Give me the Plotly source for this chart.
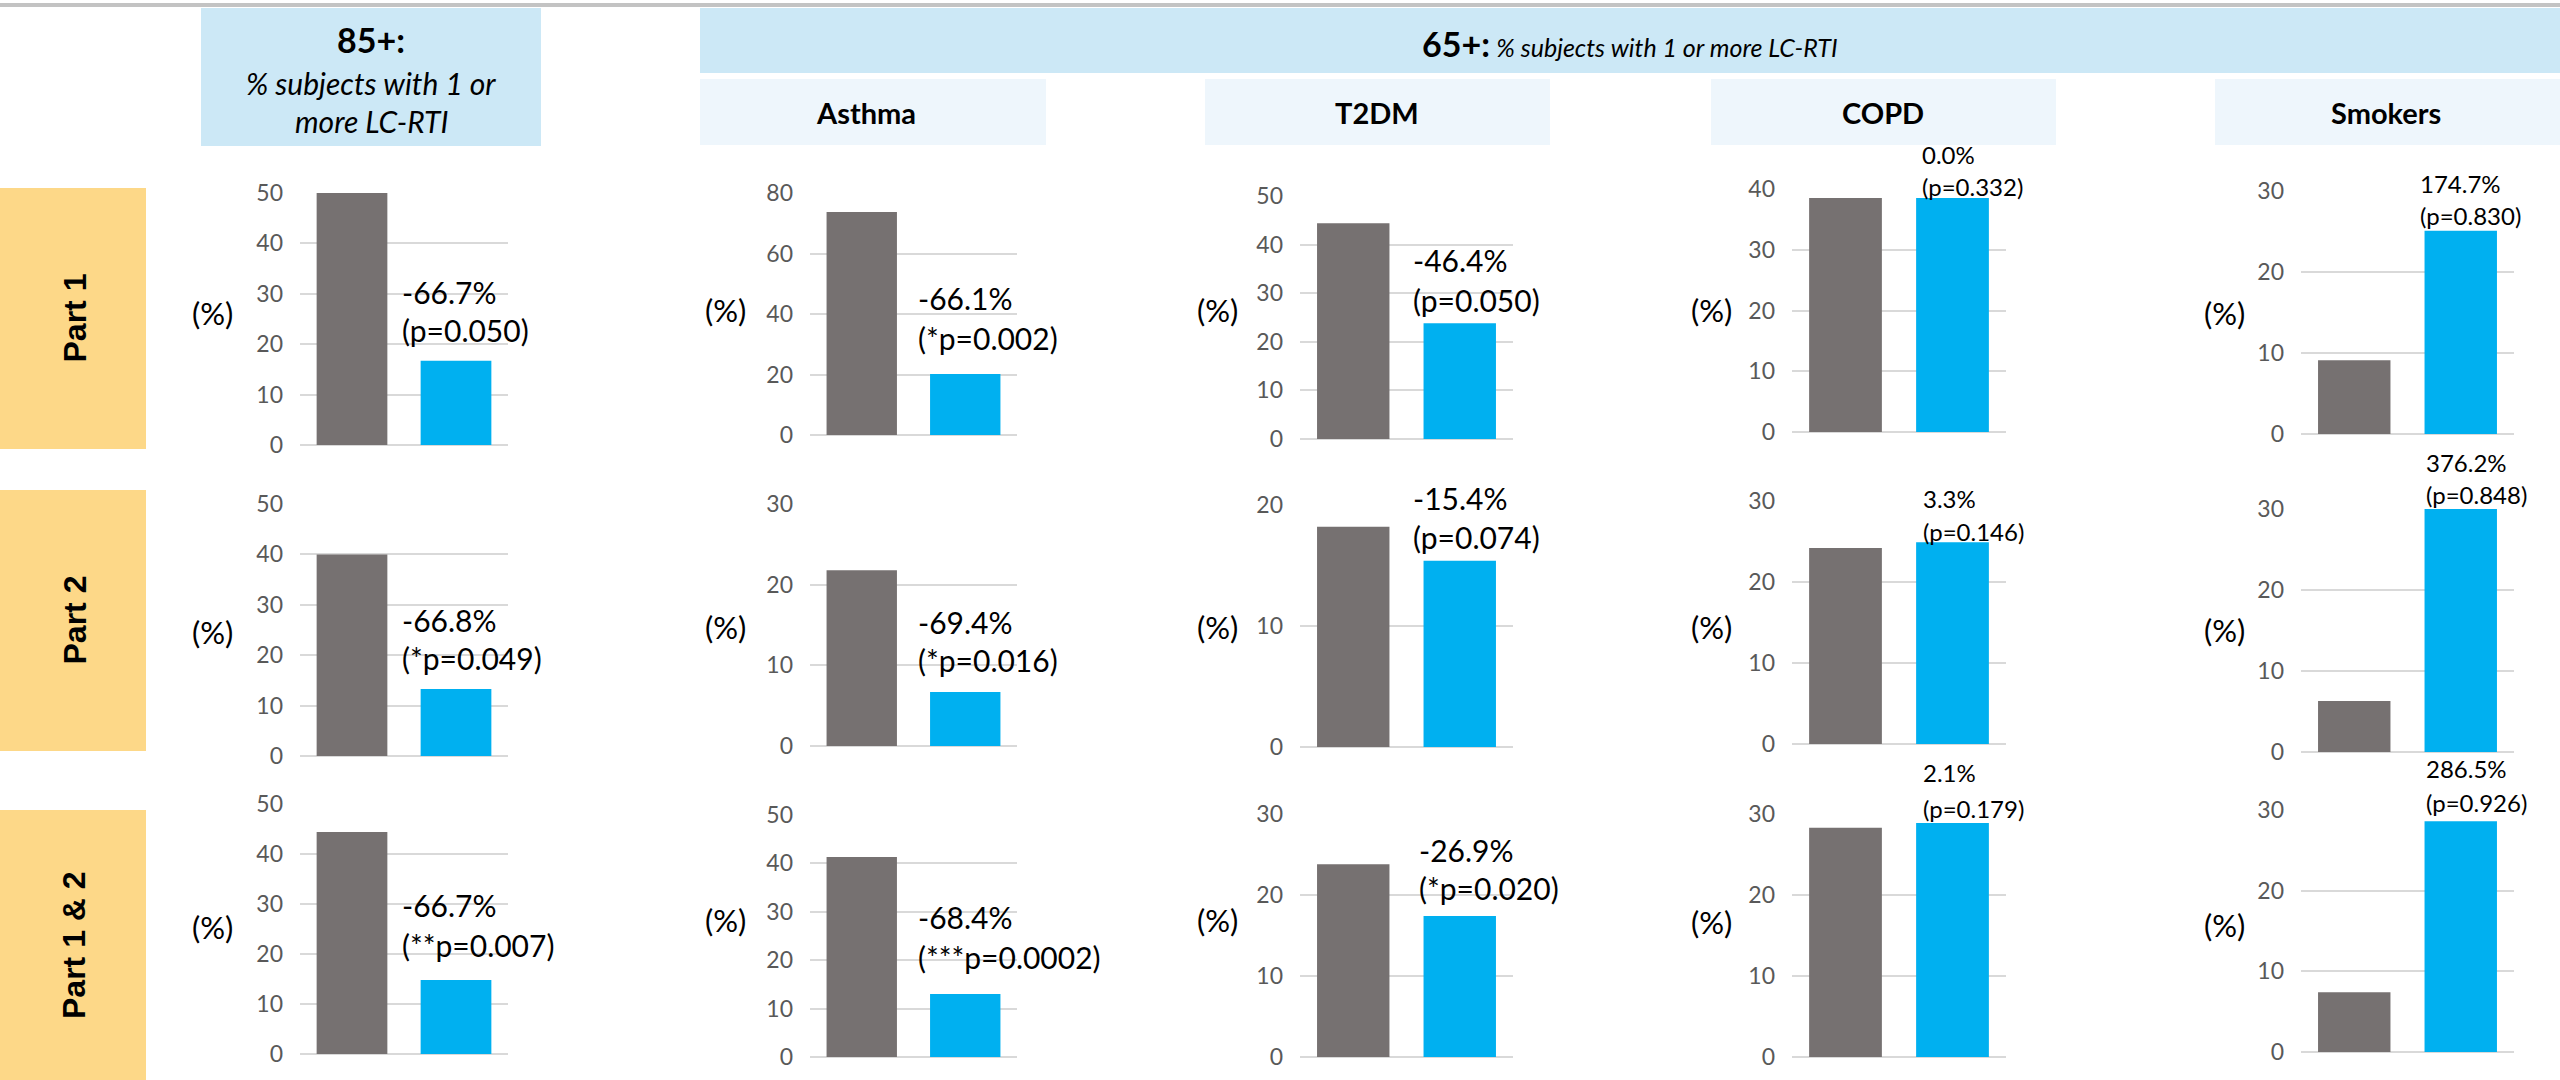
import plotly.graph_objects as go

W, H = 2560, 1080

# ---- data -----------------------------------------------------------------
row_names = ["Part 1", "Part 2", "Part 1 &amp; 2"]
col_names = ["85+", "Asthma", "T2DM", "COPD", "Smokers"]

# % subjects with 1 or more LC-RTI (rows: Part 1, Part 2, Part 1 & 2)
gray_vals = [
    [50.0, 73.7, 44.4, 38.5, 9.1],
    [40.0, 21.8, 18.2, 24.2, 6.3],
    [44.4, 41.3, 23.8, 28.3, 7.4],
]
blue_vals = [
    [16.7, 20.2, 23.8, 38.5, 25.1],
    [13.3, 6.7, 15.4, 24.9, 30.0],
    [14.8, 13.0, 17.4, 28.9, 28.6],
]

# axis maxima and tick steps
y_max = [
    [50, 80, 50, 40, 30],
    [50, 30, 20, 30, 30],
    [50, 50, 30, 30, 30],
]
y_step = [
    [10, 20, 10, 10, 10],
    [10, 10, 10, 10, 10],
    [10, 10, 10, 10, 10],
]

change_txt = [
    ["-66.7%", "-66.1%", "-46.4%", "0.0%", "174.7%"],
    ["-66.8%", "-69.4%", "-15.4%", "3.3%", "376.2%"],
    ["-66.7%", "-68.4%", "-26.9%", "2.1%", "286.5%"],
]
p_txt = [
    ["(p=0.050)", "(*p=0.002)", "(p=0.050)", "(p=0.332)", "(p=0.830)"],
    ["(*p=0.049)", "(*p=0.016)", "(p=0.074)", "(p=0.146)", "(p=0.848)"],
    ["(**p=0.007)", "(***p=0.0002)", "(*p=0.020)", "(p=0.179)", "(p=0.926)"],
]

# ---- layout geometry (pixels) --------------------------------------------
col_x = [(300, 508), (810, 1017), (1300, 1513), (1792, 2006), (2301, 2514)]
cell_y = [
    [(193, 445), (193, 435), (196, 439), (189, 432), (191, 434)],
    [(504, 756), (504, 746), (505, 747), (501, 744), (509, 752)],
    [(804, 1054), (815, 1057), (814, 1057), (814, 1057), (810, 1052)],
]
lab_pos = [
    [(400, 292, 330), (916, 298, 338), (1411, 260, 300), (1920, 155, 186), (2418, 183, 216)],
    [(400, 620, 658), (916, 622, 660), (1411, 498, 537), (1921, 498, 531), (2424, 462, 494)],
    [(400, 905, 945), (916, 917, 957), (1417, 850, 888), (1921, 772, 808), (2424, 768, 802)],
]
lab_size = [30, 30, 30, 24, 24]
pct_x = [212, 725, 1217, 1711, 2224]
pct_y = [[313, 310, 310, 310, 313], [632, 627, 627, 627, 630], [927, 920, 920, 922, 925]]

GRAY = "#767171"
BLUE = "#00B0F0"
GRID = "#D9D9D9"
FONT = "Lato, 'Open Sans', sans-serif"


def px(x):
    return x / W


def py(y):
    return 1 - y / H


fig = go.Figure()
annotations = []
shapes = []

k = 0
for r in range(3):
    for c in range(5):
        k += 1
        xa = "x" if k == 1 else f"x{k}"
        ya = "y" if k == 1 else f"y{k}"
        fig.add_trace(go.Bar(
            x=[0, 1],
            y=[gray_vals[r][c], blue_vals[r][c]],
            width=0.68,
            marker=dict(color=[GRAY, BLUE], line=dict(width=0)),
            xaxis=xa, yaxis=ya, showlegend=False, hoverinfo="skip",
        ))
        x0, x1 = col_x[c]
        ytop, ybot = cell_y[r][c]
        fig.layout[("xaxis" if k == 1 else f"xaxis{k}")] = dict(
            domain=[px(x0), px(x1)], range=[-0.5, 1.5], visible=False,
            anchor=ya, fixedrange=True, automargin=False,
        )
        fig.layout[("yaxis" if k == 1 else f"yaxis{k}")] = dict(
            domain=[py(ybot), py(ytop)], range=[0, y_max[r][c]], anchor=xa,
            tickvals=list(range(0, y_max[r][c] + 1, y_step[r][c])),
            showgrid=True, gridcolor=GRID, gridwidth=2,
            zeroline=True, zerolinecolor=GRID, zerolinewidth=2,
            showline=False, ticks="", ticklabelstandoff=16,
            tickfont=dict(family=FONT, size=23, color="#595959"),
            fixedrange=True, automargin=False,
        )
        # "(%)" axis caption
        annotations.append(dict(
            text="(%)", x=px(pct_x[c]), y=py(pct_y[r][c]), xref="paper", yref="paper",
            showarrow=False, xanchor="center", yanchor="middle",
            font=dict(family=FONT, size=31, color="black"),
        ))
        # relative change and p-value
        lx, l1, l2 = lab_pos[r][c]
        for txt, yy in ((change_txt[r][c], l1), (p_txt[r][c], l2)):
            annotations.append(dict(
                text=txt, x=px(lx), y=py(yy), xref="paper", yref="paper",
                showarrow=False, xanchor="left", yanchor="middle",
                font=dict(family=FONT, size=lab_size[c], color="black"),
            ))


def rect(x0, y0, x1, y1, color):
    shapes.append(dict(type="rect", xref="paper", yref="paper",
                       x0=px(x0), x1=px(x1), y0=py(y1), y1=py(y0),
                       fillcolor=color, line=dict(width=0), layer="below"))


# top rule
rect(0, 3, W, 7, "#C3C3C3")
# header boxes
rect(201, 8, 541, 146, "#CCE8F6")
rect(700, 8, W, 73, "#CCE8F6")
sub_boxes = [(700, 1046), (1205, 1550), (1711, 2056), (2215, W)]
for (a, b) in sub_boxes:
    rect(a, 79, b, 145, "#EEF6FC")
# row label boxes
row_boxes = [(188, 449), (490, 751), (810, H)]
for (a, b) in row_boxes:
    rect(0, a, 146, b, "#FDD888")


def note(text, x, y, size, **kw):
    d = dict(text=text, x=px(x), y=py(y), xref="paper", yref="paper",
             showarrow=False, xanchor="center", yanchor="middle",
             font=dict(family=FONT, size=size, color="black"))
    d.update(kw)
    annotations.append(d)


note("<b>" + col_names[0] + ":</b>", 371, 40, 34)
note("<i>% subjects with 1 or</i>", 371, 83, 30)
note("<i>more LC-RTI</i>", 371, 121, 30)
note("<b><span style='font-size:34px'>65+:</span></b> <i>% subjects with 1 or more LC-RTI</i>",
     1630, 43, 25)
sub_cx = [866, 1377, 1883, 2386]
for name, cx in zip(col_names[1:], sub_cx):
    note("<b>" + name + "</b>", cx, 112, 29)
for name, (a, b) in zip(row_names, row_boxes):
    note("<b>" + name + "</b>", 74, (a + b) / 2, 32,
         textangle=-90, font=dict(family="'Liberation Sans', Arial, sans-serif",
                                  size=32, color="black"))

fig.update_layout(
    template=None,
    width=W, height=H, autosize=False,
    margin=dict(l=0, r=0, t=0, b=0, pad=0, autoexpand=False),
    paper_bgcolor="white", plot_bgcolor="rgba(0,0,0,0)",
    bargap=0.32, showlegend=False,
    annotations=annotations, shapes=shapes,
)

fig.write_html("out.html", config={"displayModeBar": False},
               post_script="document.body.style.margin='0';")
